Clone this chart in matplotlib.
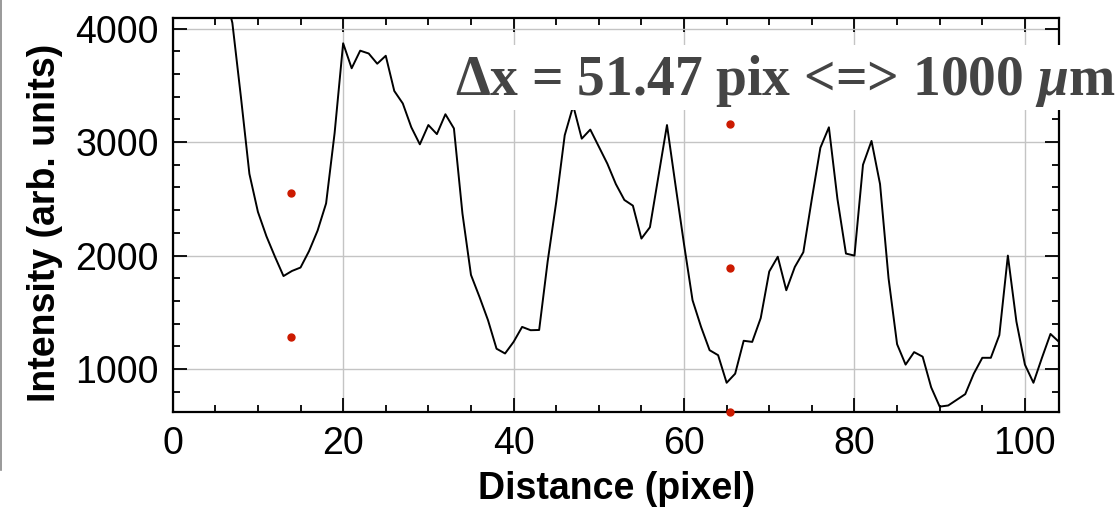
import matplotlib
matplotlib.use('Agg')
import matplotlib.pyplot as plt
from matplotlib.ticker import MultipleLocator
from matplotlib.patches import Rectangle
from matplotlib.lines import Line2D

# line profile
distance = list(range(5, 105))
intensity = [
    4600, 4350, 4050, 3400, 2720, 2385, 2170, 1990, 1820, 1865,   # 5-14
    1895, 2040, 2220, 2460, 3080, 3870, 3650, 3805, 3780, 3690,   # 15-24
    3760, 3450, 3340, 3130, 2980, 3150, 3070, 3245, 3120, 2370,   # 25-34
    1830, 1636, 1431, 1180, 1138, 1240, 1372, 1343, 1345, 1950,   # 35-44
    2470, 3060, 3320, 3030, 3110, 2960, 2810, 2630, 2490, 2440,   # 45-54
    2150, 2250, 2700, 3150, 2620, 2100, 1607, 1372, 1167, 1123,   # 55-64
    880, 960, 1250, 1240, 1450, 1860, 1990, 1695, 1900, 2030,     # 65-74
    2500, 2950, 3130, 2500, 2018, 2000, 2800, 3010, 2630, 1800,   # 75-84
    1220, 1040, 1150, 1110, 840, 670, 680, 730, 780, 960,         # 85-94
    1100, 1100, 1300, 2000, 1420, 1040, 880, 1100, 1310, 1240,    # 95-104
]

# red marker dots
dots_x = [13.9, 13.9, 65.37, 65.37, 65.37]
dots_y = [2547, 1279, 3157, 1892, 619]

annotation = 'Δx = 51.47 pix <=> 1000 $\\mu$m'

plt.rcParams['font.family'] = ['Liberation Sans', 'DejaVu Sans']
plt.rcParams['mathtext.fontset'] = 'custom'
plt.rcParams['mathtext.rm'] = 'Liberation Serif:bold'
plt.rcParams['mathtext.it'] = 'Liberation Serif:italic:bold'
plt.rcParams['mathtext.bf'] = 'Liberation Serif:bold'

fig = plt.figure(figsize=(11.18, 5.09), dpi=100)
W, H = 1118, 509
ax = fig.add_axes([172.7 / W, 1 - 412.3 / H, (1059 - 172.7) / W, (412.3 - 18.3) / H])

ax.plot(distance, intensity, color='black', lw=1.4)
ax.plot(dots_x, dots_y, 'o', color='#cc1a00', ms=5, clip_on=False, zorder=4)

ax.set_xlim(0, 104)
ax.set_ylim(620, 4090)
ax.xaxis.set_major_locator(MultipleLocator(20))
ax.xaxis.set_minor_locator(MultipleLocator(5))
ax.yaxis.set_major_locator(MultipleLocator(1000))
ax.yaxis.set_minor_locator(MultipleLocator(200))
ax.grid(True, which='major', color='#c4c4c4', lw=1.0)

ax.tick_params(which='both', direction='in', top=True, right=True,
               labelsize=27, width=1.3, colors='black')
ax.tick_params(which='major', length=10, pad=10)
ax.tick_params(which='minor', length=5)
for s in ax.spines.values():
    s.set_linewidth(1.6)

ax.set_xlabel('Distance (pixel)', fontsize=27, fontweight='bold')
ax.set_ylabel('Intensity (arb. units)', fontsize=27, fontweight='bold')
ax.xaxis.set_label_coords(0.501, -0.148)
ax.yaxis.set_label_coords(-0.124, 0.48)

# white label box over the top of the plot
fig.patches.append(Rectangle((452 / W, 1 - 110 / H), (W - 452) / W, 65 / H,
                             transform=fig.transFigure, facecolor='white',
                             edgecolor='none', zorder=2))
fig.text(455 / W, 1 - 95 / H, annotation, fontsize=40, fontweight='bold',
         family='Liberation Serif', color='#444444', ha='left', va='baseline',
         zorder=3)

# left edge of the screenshot
fig.add_artist(Line2D([1.5 / W, 1.5 / W], [1 - 470 / H, 1], transform=fig.transFigure,
                      color='#888888', lw=1.2))

fig.savefig('out.png', dpi=100)
